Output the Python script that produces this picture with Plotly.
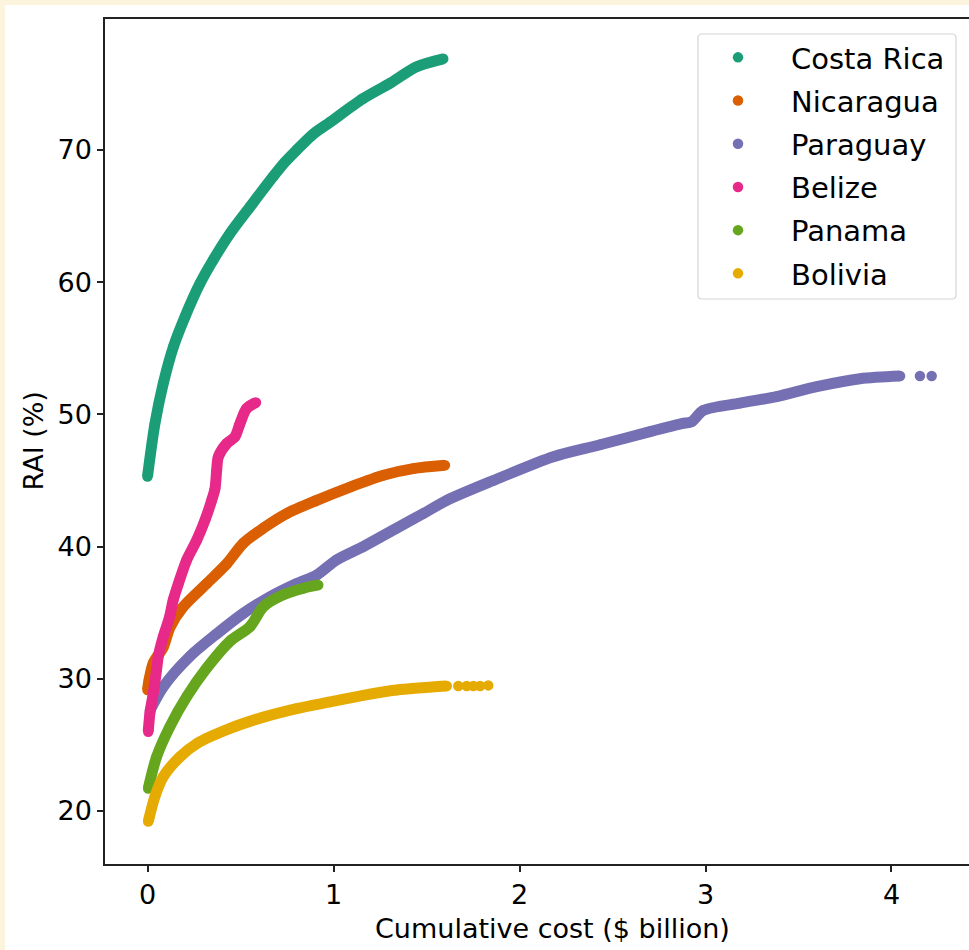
import plotly.graph_objects as go

# ---------------- data ----------------
countries = ["Costa Rica", "Nicaragua", "Paraguay", "Belize", "Panama", "Bolivia"]
colors = ["#1b9e77", "#d95f02", "#7570b3", "#e7298a", "#66a61e", "#e6ab02"]

costa_rica_x = [0.0, 0.040, 0.085, 0.139, 0.202, 0.282, 0.354, 0.444, 0.551, 0.676, 0.740, 0.802, 0.890, 0.981, 1.160, 1.304, 1.447, 1.590]
costa_rica_y = [45.3, 49.3, 52.35, 55.1, 57.4, 59.9, 61.7, 63.7, 65.7, 68.0, 69.1, 70.0, 71.2, 72.1, 73.9, 75.05, 76.3, 76.9]

nicaragua_x = [0.0, 0.008, 0.031, 0.085, 0.121, 0.192, 0.318, 0.426, 0.515, 0.623, 0.748, 0.910, 1.089, 1.268, 1.429, 1.599]
nicaragua_y = [29.15, 29.9, 31.2, 32.4, 33.9, 35.45, 37.2, 38.7, 40.25, 41.4, 42.5, 43.5, 44.5, 45.4, 45.9, 46.15]

paraguay_x = [0.013, 0.085, 0.228, 0.372, 0.515, 0.659, 0.802, 0.910, 1.017, 1.160, 1.340, 1.483, 1.609, 1.859, 2.182, 2.433, 2.702, 2.872, 2.926, 2.988, 3.185, 3.383, 3.598, 3.831, 4.046]
paraguay_y = [27.6, 29.4, 31.7, 33.4, 34.95, 36.2, 37.2, 37.85, 39.0, 40.0, 41.4, 42.5, 43.5, 45.0, 46.8, 47.7, 48.7, 49.3, 49.45, 50.3, 50.85, 51.35, 52.1, 52.7, 52.9]
paraguay_tail_x = [4.153, 4.216]
paraguay_tail_y = [52.9, 52.9]

belize_x = [0.004, 0.013, 0.031, 0.049, 0.058, 0.085, 0.117, 0.139, 0.166, 0.211, 0.265, 0.309, 0.345, 0.363, 0.372, 0.381, 0.426, 0.470, 0.497, 0.533, 0.583]
belize_y = [26.0, 27.4, 28.9, 30.7, 31.7, 33.2, 34.6, 36.0, 37.2, 39.0, 40.5, 42.0, 43.5, 44.4, 45.8, 46.8, 47.8, 48.3, 49.3, 50.45, 50.9]

panama_x = [0.004, 0.049, 0.121, 0.211, 0.318, 0.444, 0.551, 0.623, 0.730, 0.838, 0.918]
panama_y = [21.7, 24.1, 26.4, 28.65, 30.8, 32.85, 33.95, 35.45, 36.35, 36.85, 37.1]

bolivia_x = [0.004, 0.040, 0.085, 0.175, 0.265, 0.444, 0.623, 0.802, 0.981, 1.160, 1.340, 1.609]
bolivia_y = [19.2, 21.1, 22.6, 24.1, 25.1, 26.25, 27.1, 27.75, 28.25, 28.75, 29.15, 29.45]
bolivia_tail_x = [1.671, 1.716, 1.752, 1.788, 1.832]
bolivia_tail_y = [29.45, 29.45, 29.45, 29.45, 29.5]

x_ticks = [0, 1, 2, 3, 4]
y_ticks = [20, 30, 40, 50, 60, 70]
x_title = "Cumulative cost ($ billion)"
y_title = "RAI (%)"

series = [
    (costa_rica_x, costa_rica_y, [], []),
    (nicaragua_x, nicaragua_y, [], []),
    (paraguay_x, paraguay_y, paraguay_tail_x, paraguay_tail_y),
    (belize_x, belize_y, [], []),
    (panama_x, panama_y, [], []),
    (bolivia_x, bolivia_y, bolivia_tail_x, bolivia_tail_y),
]

# ---------------- layout geometry (pixels) ----------------
W, H = 969, 950
ML, MR, MT, MB = 105, 0, 19, 86
PW, PH = W - ML - MR, H - MT - MB
FONT = "DejaVu Sans"
FS = 27
LFS = 29
CREAM = "#fdf4de"


def px_x(p):
    return (p - ML) / PW


def px_y(p):
    return (H - MB - p) / PH


fig = go.Figure()
DOT = 10.5
for name, col, (xs, ys, tx, ty) in zip(countries, colors, series):
    fig.add_trace(go.Scatter(
        x=xs, y=ys, mode="lines", line=dict(color=col, width=DOT + 0.5, shape="spline", smoothing=0.8),
        showlegend=False, legendgroup=name, hoverinfo="skip"))
    fig.add_trace(go.Scatter(
        x=xs + tx, y=ys + ty, mode="markers", name=name, legendgroup=name,
        marker=dict(color=col, size=DOT, line=dict(width=0))))

# legend frame (rounded rectangle) drawn as a shape
bx0, bx1, by0, by1, r = 698, 956, 34, 299, 4
path = (f"M {px_x(bx0 + r)} {px_y(by0)} L {px_x(bx1 - r)} {px_y(by0)} "
        f"Q {px_x(bx1)} {px_y(by0)} {px_x(bx1)} {px_y(by0 + r)} "
        f"L {px_x(bx1)} {px_y(by1 - r)} Q {px_x(bx1)} {px_y(by1)} {px_x(bx1 - r)} {px_y(by1)} "
        f"L {px_x(bx0 + r)} {px_y(by1)} Q {px_x(bx0)} {px_y(by1)} {px_x(bx0)} {px_y(by1 - r)} "
        f"L {px_x(bx0)} {px_y(by0 + r)} Q {px_x(bx0)} {px_y(by0)} {px_x(bx0 + r)} {px_y(by0)} Z")

shapes = [
    dict(type="rect", xref="paper", yref="paper", x0=px_x(0), x1=px_x(W), y0=px_y(0), y1=px_y(5),
         fillcolor=CREAM, line=dict(width=0), layer="below"),
    dict(type="rect", xref="paper", yref="paper", x0=px_x(0), x1=px_x(5), y0=px_y(0), y1=px_y(H),
         fillcolor=CREAM, line=dict(width=0), layer="below"),
    dict(type="path", xref="paper", yref="paper", path=path, fillcolor="white",
         line=dict(color="#d6d6d6", width=1.2), layer="above"),
]

annotations = [
    dict(text=x_title, xref="paper", yref="paper", x=px_x(552), y=px_y(928),
         showarrow=False, font=dict(family=FONT, size=FS, color="black"),
         xanchor="center", yanchor="middle"),
    dict(text=y_title, xref="paper", yref="paper", x=px_x(33), y=0.5, textangle=-90,
         showarrow=False, font=dict(family=FONT, size=FS, color="black"),
         xanchor="center", yanchor="middle"),
]

axis_common = dict(showgrid=False, zeroline=False, showline=True, linecolor="#222222", linewidth=1.5,
                   ticks="outside", ticklen=6, tickwidth=1.5, tickcolor="#222222",
                   tickfont=dict(family=FONT, size=FS, color="black"))

fig.update_layout(
    width=W, height=H,
    margin=dict(l=ML, r=MR, t=MT, b=MB, pad=0),
    paper_bgcolor="white", plot_bgcolor="white",
    font=dict(family=FONT, size=FS, color="black"),
    shapes=shapes, annotations=annotations,
    xaxis=dict(range=[-0.2285, 4.4167], tickvals=x_ticks, mirror=True, **axis_common),
    yaxis=dict(range=[15.99, 79.91], tickvals=y_ticks, mirror=False, **axis_common),
    legend=dict(x=px_x(685), y=px_y(32), xanchor="left", yanchor="top",
                bgcolor="rgba(0,0,0,0)", borderwidth=0,
                font=dict(family=FONT, size=LFS, color="black"),
                itemwidth=96, tracegroupgap=2.5),
    showlegend=True,
)

fig.write_html("out.html", config={"displayModeBar": False},
               post_script="document.body.style.margin='0';")
